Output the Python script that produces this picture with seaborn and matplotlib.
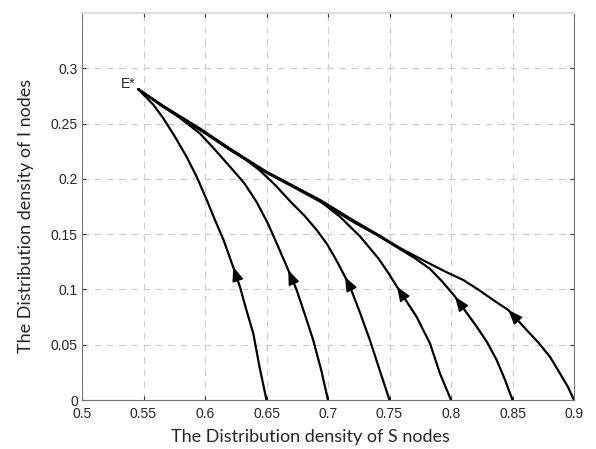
import numpy as np
import pandas as pd
import matplotlib
matplotlib.use('Agg')
import matplotlib.pyplot as plt
import seaborn as sns

# trajectories, from the S axis up to E*
s065 = [0.65, 0.6443, 0.6393, 0.6335, 0.6285, 0.623, 0.615, 0.608, 0.6014, 0.5932,
        0.585, 0.5756, 0.566, 0.558, 0.551, 0.5458]
i065 = [0.0, 0.03, 0.06, 0.082, 0.102, 0.12, 0.145, 0.163, 0.181, 0.202,
        0.22, 0.238, 0.255, 0.267, 0.275, 0.281]

s070 = [0.70, 0.6945, 0.688, 0.681, 0.6745, 0.6677, 0.6583, 0.651, 0.642, 0.632,
        0.6203, 0.608, 0.5959, 0.585, 0.575, 0.5458]
i070 = [0.0, 0.027, 0.054, 0.078, 0.0995, 0.1175, 0.1417, 0.16, 0.179, 0.196,
        0.211, 0.2265, 0.241, 0.2505, 0.259, 0.281]

s075 = [0.75, 0.742, 0.7341, 0.726, 0.7179, 0.7138, 0.707, 0.6995, 0.691, 0.681,
        0.669, 0.657, 0.6447, 0.632, 0.62, 0.595, 0.566, 0.5458]
i075 = [0.0, 0.027, 0.054, 0.079, 0.1025, 0.1115, 0.126, 0.1405, 0.1535, 0.1665,
        0.180, 0.1945, 0.2075, 0.2185, 0.2275, 0.245, 0.265, 0.281]

s080 = [0.80, 0.791, 0.783, 0.772, 0.764, 0.756, 0.749, 0.741, 0.726, 0.7098,
        0.6935, 0.672, 0.65, 0.62, 0.596, 0.566, 0.5458]
i080 = [0.0, 0.024, 0.051, 0.0753, 0.089, 0.1025, 0.115, 0.128, 0.148, 0.1657,
        0.180, 0.1935, 0.206, 0.2265, 0.2445, 0.2655, 0.281]

s085 = [0.85, 0.844, 0.8372, 0.8295, 0.8209, 0.8033, 0.793, 0.783, 0.771, 0.7585,
        0.74, 0.7206, 0.6935, 0.672, 0.65, 0.62, 0.596, 0.566, 0.5458]
i085 = [0.0, 0.018, 0.036, 0.052, 0.0663, 0.0934, 0.107, 0.1185, 0.128, 0.1365,
        0.149, 0.161, 0.1795, 0.1925, 0.2055, 0.2265, 0.2445, 0.2655, 0.281]

s090 = [0.90, 0.895, 0.8886, 0.8805, 0.871, 0.8615, 0.8466, 0.8344, 0.822, 0.81,
        0.7965, 0.778, 0.7585, 0.74, 0.7206, 0.6935, 0.672, 0.65, 0.62, 0.596,
        0.566, 0.5458]
i090 = [0.0, 0.012, 0.024, 0.039, 0.052, 0.0633, 0.0814, 0.0904, 0.1, 0.1085,
        0.1155, 0.126, 0.1375, 0.15, 0.1625, 0.181, 0.1935, 0.2065, 0.2275, 0.2455,
        0.266, 0.281]

# arrow heads: tip and a point just behind it on the same curve
arrow_tip = [(0.623, 0.1206), (0.6677, 0.1175), (0.7138, 0.1115),
             (0.756, 0.1025), (0.8033, 0.0934), (0.8466, 0.0814)]
arrow_tail = [(0.6285, 0.102), (0.6745, 0.0995), (0.7179, 0.1025),
              (0.772, 0.0753), (0.8209, 0.0663), (0.8615, 0.0633)]

x_ticks = [0.5, 0.55, 0.6, 0.65, 0.7, 0.75, 0.8, 0.85, 0.9]
y_ticks = [0, 0.05, 0.1, 0.15, 0.2, 0.25, 0.3]

curves = {'0.65': (s065, i065), '0.70': (s070, i070), '0.75': (s075, i075),
          '0.80': (s080, i080), '0.85': (s085, i085), '0.90': (s090, i090)}
rows = []
for name, (s, i) in curves.items():
    for k in range(len(s)):
        rows.append({'curve': name, 'S': s[k], 'I': i[k]})
df = pd.DataFrame(rows)

sns.set_style('white')
plt.rcParams['font.family'] = ['Liberation Sans', 'DejaVu Sans']

fig = plt.figure(figsize=(5.96, 4.49), dpi=100)
ax = fig.add_axes([82 / 596, 1 - 400 / 449, 492 / 596, 387 / 449])

sns.lineplot(data=df, x='S', y='I', units='curve', estimator=None, sort=False,
             color='black', linewidth=1.6, ax=ax)
for ln in ax.lines:
    ln.set_solid_joinstyle('round')
    ln.set_solid_capstyle('round')

for tip, tail in zip(arrow_tip, arrow_tail):
    ax.annotate('', xy=tip, xytext=tail,
                arrowprops=dict(arrowstyle='-|>,head_length=0.9,head_width=0.35',
                                color='black', lw=1.0, shrinkA=0, shrinkB=0))

ax.text(0.5435, 0.282, 'E*', ha='right', va='baseline', fontsize=10)

ax.set_xlim(0.5, 0.9)
ax.set_ylim(0, 0.35)
ax.set_xticks(x_ticks)
ax.set_yticks(y_ticks)
ax.set_xticklabels(['%g' % v for v in x_ticks], fontsize=10)
ax.set_yticklabels(['%g' % v for v in y_ticks], fontsize=10)
ax.grid(True, color='#cccccc', linestyle=(0, (6, 5)), linewidth=0.8)
ax.tick_params(direction='in', length=3, width=0.8, top=True, right=True,
               bottom=True, left=True, color='#333333')
ax.tick_params(axis='x', pad=5)
ax.tick_params(axis='y', pad=3)
for sp in ax.spines.values():
    sp.set_color('#777777')
    sp.set_linewidth(0.8)
ax.spines['top'].set_color('#dddddd')
ax.spines['top'].set_linewidth(1.5)

ax.set_xlabel('The Distribution density of S nodes', fontsize=13,
              family=['Lato', 'DejaVu Sans'])
ax.set_ylabel('The Distribution density of I nodes', fontsize=13,
              family=['Lato', 'DejaVu Sans'])
ax.xaxis.set_label_coords(0.465, -0.075)
ax.yaxis.set_label_coords(-0.098, 0.475)

fig.savefig('out.png', dpi=100)
